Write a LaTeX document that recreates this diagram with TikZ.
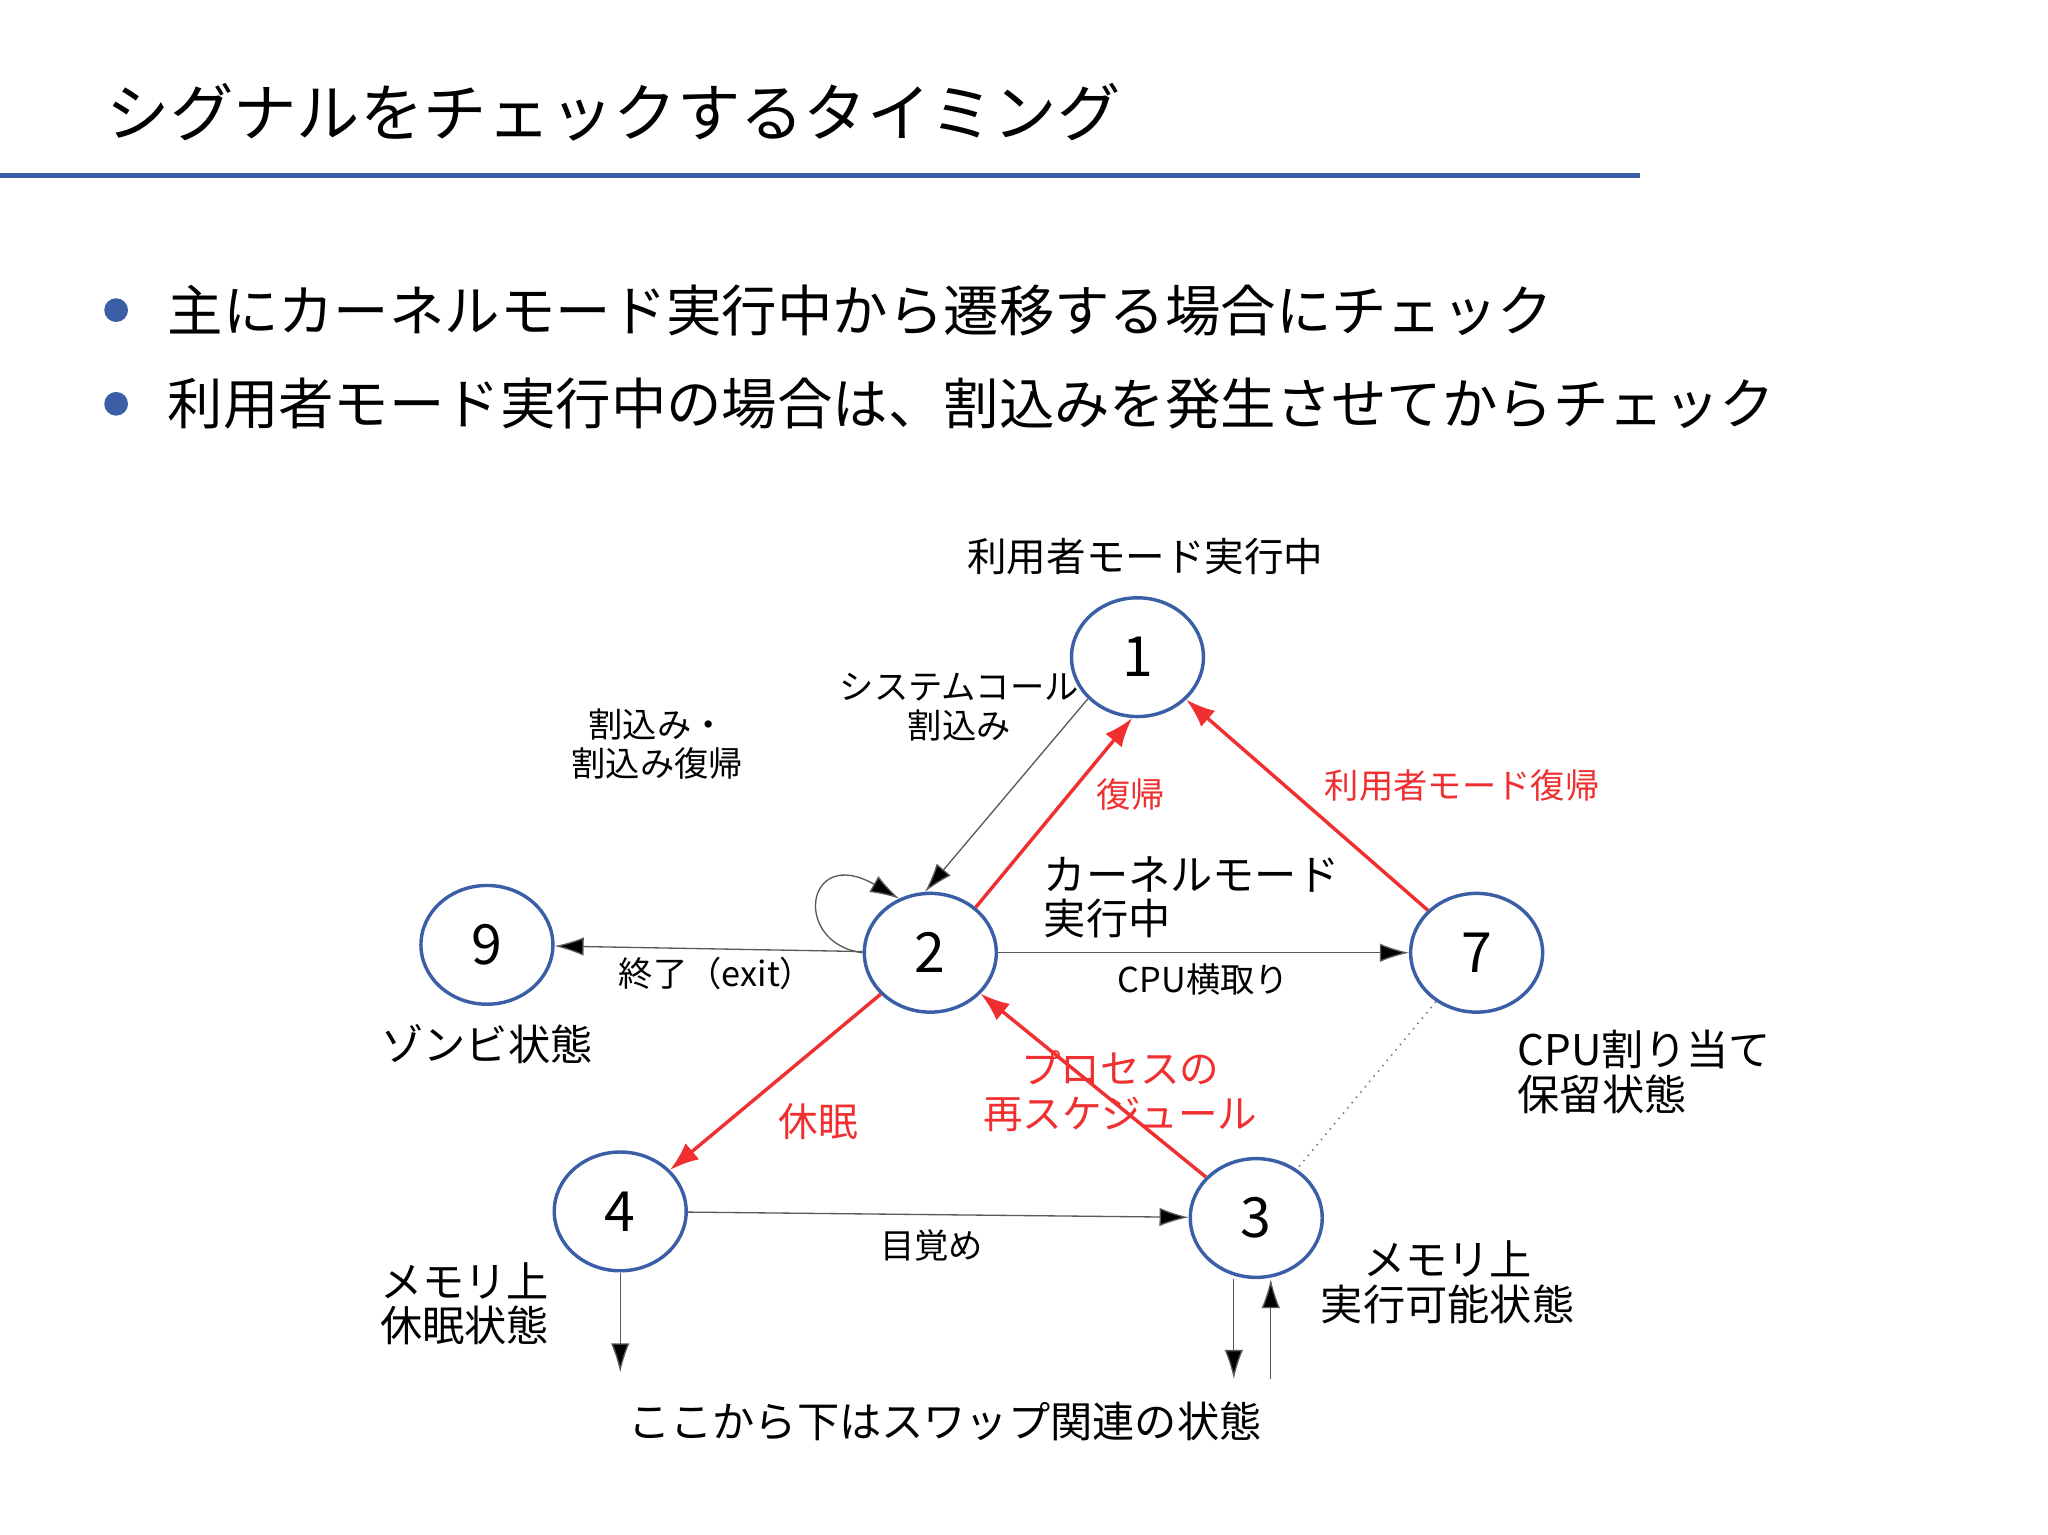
\documentclass[tikz,border=0pt]{standalone}
\usepackage{fontspec}
\setmainfont{Noto Sans CJK JP}
\usetikzlibrary{arrows.meta,shapes.geometric,calc}
\definecolor{nb}{HTML}{3A5FA6}
\definecolor{rr}{HTML}{F03030}
\begin{document}
\begin{tikzpicture}[x=0.5pt,y=-0.5pt,
 st/.style={draw=nb,line width=1.3pt,ellipse,minimum width=50pt,minimum height=45pt,inner sep=0pt,font=\fontsize{21}{21}\selectfont},
 thin/.style={draw=gray!70!black,line width=0.5pt,-{Latex[length=11pt,width=7pt,fill=black]}},
 red/.style={draw=rr,line width=1.3pt,-{Latex[length=11pt,width=8pt]}},
 lb/.style={font=\fontsize{13}{15}\selectfont,align=center},
 lr/.style={lb,text=rr},
 big/.style={font=\fontsize{16}{17}\selectfont,align=left}]
\useasboundingbox (0,0) rectangle (1552,1163);
\fill[white] (0,0) rectangle (1552,1163);
\node[anchor=west,font=\fontsize{24}{24}\selectfont] (t) at (74,85) {シグナルをチェックするタイミング};
\draw[nb,line width=2pt] (0,133) -- (1243,133);
\fill[nb] (88,235) circle (4.5pt) (88,306) circle (4.5pt);
\node[anchor=west,font=\fontsize{21}{21}\selectfont] (b1) at (120,235) {主にカーネルモード実行中から遷移する場合にチェック};
\node[anchor=west,font=\fontsize{21}{21}\selectfont] (b2) at (120,306) {利用者モード実行中の場合は、割込みを発生させてからチェック};
\node[st] (n1) at (862,498) {1};
\node[st] (n2) at (705,722) {2};
\node[st] (n9) at (369,716) {9};
\node[st] (n7) at (1119,722) {7};
\node[st] (n4) at (470,918) {4};
\node[st] (n3) at (952,923) {3};
\coordinate (d4) at (470,1040);
\coordinate (d3) at (935,1045);
\coordinate (u3) at (963,1045);
\draw[thin] (n1.220) -- (n2.95);
\draw[red] (n2.45) -- (n1.265);
\draw[red] (n7) -- (n1);
\draw[thin] (n2) -- (n7);
\draw[thin] (n2) -- (n9);
\draw[red] (n2) -- (n4);
\draw[red] (n3) -- (n2);
\draw[thin] (n4) -- (n3);
\draw[gray,dotted,line width=0.6pt] (n7) -- (n3);
\draw[thin] (n4) -- (d4);
\draw[thin] ($(n3.south)+(-17,0)$) -- (d3);
\draw[thin] (u3) -- ($(n3.south)+(11,0)$);
\draw[thin] (n2.west) .. controls (600,715) and (610,640) .. (n2.120);
\node[lb,font=\fontsize{15}{17}\selectfont] (l1) at (868,422) {利用者モード実行中};
\node[lb] (sc) at (727,536) {システムコール\\割込み};
\node[lb] (wr) at (498,564) {割込み・\\割込み復帰};
\node[lr] (fk) at (857,602) {復帰};
\node[lr] (rf) at (1108,595) {利用者モード復帰};
\node[big] (km) at (903,680) {カーネルモード\\実行中};
\node[lb] (ex) at (543,738) {終了（exit）};
\node[lb] (cpu) at (912,742) {CPU横取り};
\node[big] (zb) at (369,791) {ゾンビ状態};
\node[big] (cw) at (1246,812) {CPU割り当て\\保留状態};
\node[lr,font=\fontsize{15}{17}\selectfont] (rs) at (849,827) {プロセスの\\再スケジュール};
\node[lr,font=\fontsize{15}{17}\selectfont] (km2) at (620,850) {休眠};
\node[lb] (mz) at (706,944) {目覚め};
\node[big,align=center] (ms) at (352,988) {メモリ上\\休眠状態};
\node[big,align=center] (me) at (1097,972) {メモリ上\\実行可能状態};
\node[lb,font=\fontsize{16}{17}\selectfont] (sw) at (716,1077) {ここから下はスワップ関連の状態};
\end{tikzpicture}
\end{document}
